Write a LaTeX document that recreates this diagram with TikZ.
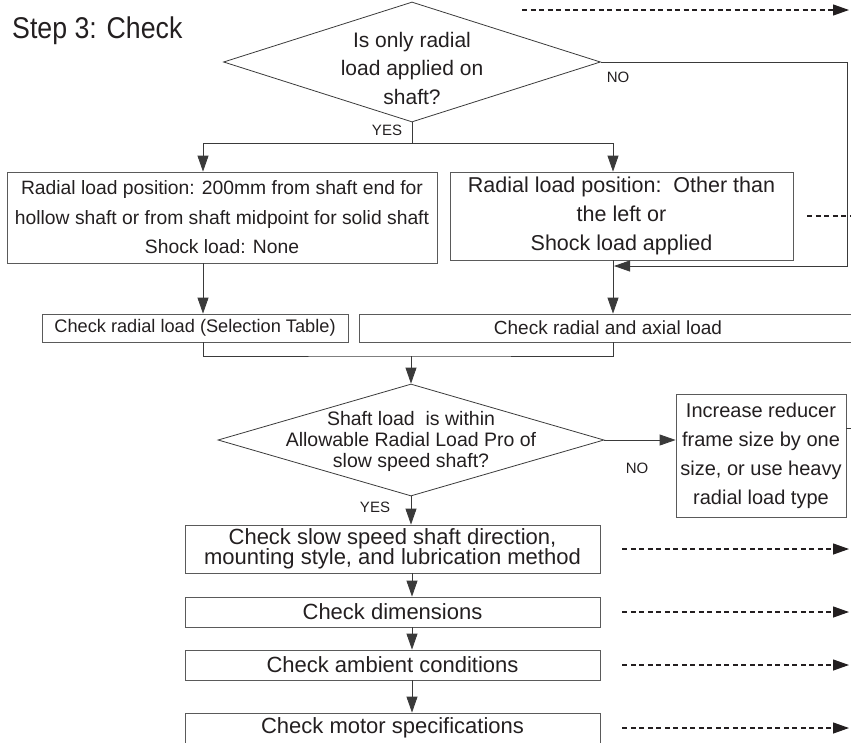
\documentclass[tikz,border=0pt]{standalone}
\usepackage{fontspec}
\setmainfont{Liberation Sans}
\usepackage{graphicx}
\usetikzlibrary{shapes.geometric, arrows.meta}
\definecolor{ink}{HTML}{231F20}
\definecolor{wire}{HTML}{3A3A3A}
\definecolor{frame}{HTML}{5A5A5A}
\newcommand\tightlines{\lineskiplimit=-10pt\relax}

\begin{document}
\begin{tikzpicture}[x=1pt, y=-1pt,
  box/.style={draw=frame, line width=0.8pt, rectangle, inner sep=0pt, align=center, text=ink},
  decision/.style={draw=wire, line width=0.8pt, diamond, inner sep=0pt},
  arrow/.style={draw=wire, line width=0.8pt, -{Triangle[length=16pt, width=11pt]}},
  link/.style={draw=wire, line width=0.8pt},
  dots/.style={draw=ink, line width=1.2pt, dash pattern=on 5pt off 3.5pt},
  dotarrow/.style={dots, -{Triangle[length=16pt, width=11pt]}},
  tag/.style={text=ink, font=\fontsize{15}{15}\selectfont, inner sep=0pt}]
\useasboundingbox (0,0) rectangle (851,742);
\clip (0,0) rectangle (851,742);

\node[anchor=base west, text=ink, inner sep=0pt, font=\fontsize{30}{30}\selectfont] (title) at (12,38) {\scalebox{0.89}[1]{Step 3: Check}};

\node[decision, minimum width=377pt, minimum height=120pt] (q1) at (412,62) {};
\node[text=ink, align=center, font=\fontsize{21}{28.5}\selectfont] (q1text) at (412,68) {Is only radial\\load applied on\\shaft?};
\node[tag] (yes1) at (387,130) {YES};
\node[tag] (no1) at (618,77) {NO};

\node[box, minimum width=430pt, minimum height=91pt, font=\fontsize{19.3}{29.5}\selectfont] (pos1) at (222,217.5) {Radial load position: 200mm from shaft end for\\hollow shaft or from shaft midpoint for solid shaft\\Shock load: None};
\node[box, minimum width=343pt, minimum height=88pt, font=\fontsize{21.5}{29}\selectfont] (pos2) at (621.5,216) {Radial load position:\ \ Other than\\the left or\\Shock load applied};

\node[box, minimum width=306pt, minimum height=28pt, font=\fontsize{18.2}{20}\selectfont] (chk1) at (195,328) {Check radial load (Selection Table)};
\node[box, minimum width=498pt, minimum height=28pt, font=\fontsize{19}{20}\selectfont] (chk2) at (608,328) {Check radial and axial load};

\node[decision, minimum width=386pt, minimum height=112pt] (q2) at (411,440) {};
\node[text=ink, align=center, font=\fontsize{19.5}{21}\selectfont] (q2text) at (411,441) {Shaft load\ \ is within\\Allowable Radial Load Pro of\\slow speed shaft?};
\node[tag] (no2) at (637,468) {NO};
\node[tag] (yes2) at (375,507) {YES};

\node[box, minimum width=170pt, minimum height=123pt, font=\fontsize{20}{29}\selectfont] (bigger) at (761,455.5) {Increase reducer\\frame size by one\\size, or use heavy\\radial load type};

\node[box, minimum width=415pt, minimum height=48pt, font={\fontsize{22}{20}\selectfont\tightlines}] (mount) at (392.5,549) {Check slow speed shaft direction,\\mounting style, and lubrication method};
\node[box, minimum width=415pt, minimum height=30pt, font=\fontsize{22}{24}\selectfont] (dims) at (392.5,612) {Check dimensions};
\node[box, minimum width=415pt, minimum height=30pt, font=\fontsize{22}{24}\selectfont] (ambient) at (392.5,665) {Check ambient conditions};
\node[box, minimum width=415pt, minimum height=30pt, font=\fontsize{22}{24}\selectfont] (motor) at (392.5,728) {Check motor specifications};

\coordinate (split) at (412,143);
\coordinate (merge) at (411,356);
\coordinate (rail) at (847,0);
\coordinate (noin) at (614,266);
\coordinate (spine) at (412,0);
\coordinate (tip) at (849,0);
\coordinate (topdash) at (522,10);

\draw[link] (q1.south) -- (split);
\draw[arrow] (split) -| ([xshift=-19pt]pos1.north);
\draw[arrow] (split) -| ([xshift=-8.5pt]pos2.north);
\draw[arrow] ([xshift=-19pt]pos1.south) -- ([xshift=-19pt]pos1.south |- chk1.north);
\draw[arrow] ([xshift=-8.5pt]pos2.south) -- ([xshift=-8.5pt]pos2.south |- chk2.north);
\draw[arrow] (q1.east) -- (q1.east -| rail) |- (noin);
\draw[link] ([xshift=8pt]chk1.south) |- (merge) -| ([xshift=5pt]chk2.south);
\draw[arrow] (merge) -- (q2.north);
\draw[arrow] (q2.east) -- (q2.east -| bigger.west);
\draw[link] ([yshift=27.5pt]bigger.east) -- ++(8,0);
\draw[arrow] (q2.south) -- (q2.south |- mount.north);
\draw[arrow] (spine |- mount.south) -- (spine |- dims.north);
\draw[arrow] (spine |- dims.south) -- (spine |- ambient.north);
\draw[arrow] (spine |- ambient.south) -- (spine |- motor.north);

\draw[dotarrow] (topdash) -- (topdash -| tip);
\draw[dots] ([xshift=14pt]pos2.east) -- ++(44,0);
\foreach \b in {mount,dims,ambient,motor}
  \draw[dotarrow] ([xshift=22pt]\b.east) -- (\b.east -| tip);
\end{tikzpicture}
\end{document}
